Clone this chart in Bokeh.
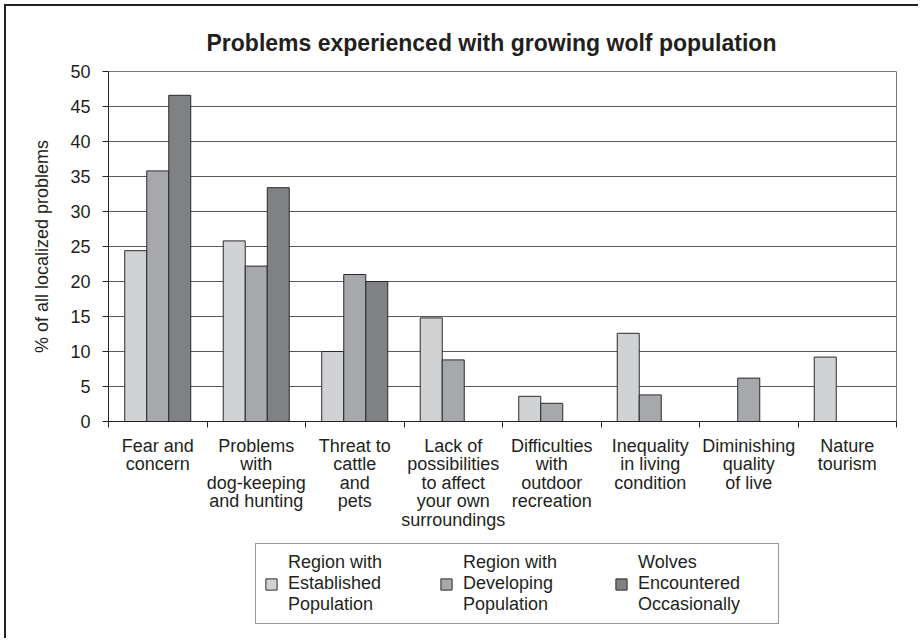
import math
from bokeh.plotting import figure
from bokeh.layouts import column
from bokeh.models import ColumnDataSource, FixedTicker, Legend, LegendItem
from bokeh.transform import dodge
from bokeh.embed import file_html
from bokeh.resources import INLINE

NaN = math.nan

categories = [
    "Fear and\nconcern",
    "Problems\nwith\ndog-keeping\nand hunting",
    "Threat to\ncattle\nand\npets",
    "Lack of\npossibilities\nto affect\nyour own\nsurroundings",
    "Difficulties\nwith\noutdoor\nrecreation",
    "Inequality\nin living\ncondition",
    "Diminishing\nquality\nof live",
    "Nature\ntourism",
]
established = [24.4, 25.8, 10.0, 14.8, 3.6, 12.6, NaN, 9.2]
developing = [35.8, 22.2, 21.0, 8.8, 2.6, 3.8, 6.2, NaN]
occasional = [46.6, 33.4, 20.0, NaN, NaN, NaN, NaN, NaN]
series_names = [
    "Region with\nEstablished\nPopulation",
    "Region with\nDeveloping\nPopulation",
    "Wolves\nEncountered\nOccasionally",
]
series_colors = ["#d1d2d4", "#a7a8ab", "#808184"]
y_ticks = [0, 5, 10, 15, 20, 25, 30, 35, 40, 45, 50]

FONT = "Liberation Sans"
TXT = "#231f20"
EDGE = "#2a2a2a"

centers = [i + 0.5 for i in range(len(categories))]
bounds = list(range(len(categories) + 1))
cols = ["est", "dev", "occ"]

source = ColumnDataSource(dict(x=centers, est=established, dev=developing, occ=occasional))

p = figure(
    width=912, height=535,
    x_range=(0, len(categories)), y_range=(0, 50),
    output_backend="svg", toolbar_location=None,
    min_border_left=102, min_border_right=22, min_border_top=65, min_border_bottom=120,
    background_fill_color="white", border_fill_color="white",
)

bw = 0.2234
offsets = [-bw, 0.0, bw]
for col, off, color in zip(cols, offsets, series_colors):
    p.vbar(x=dodge("x", off, range=p.x_range), top=col, bottom=0, width=bw,
           source=source, fill_color=color, line_color=EDGE, line_width=1)

# title
p.title.text = "Problems experienced with growing wolf population"
p.title.text_font = FONT
p.title.text_font_size = "23px"
p.title.text_font_style = "bold"
p.title.text_color = TXT
p.title.align = "left"
p.title.offset = 98
p.title.standoff = 32

# frame / grid
p.outline_line_color = "#7a7a7a"
p.outline_line_width = 1
p.xgrid.visible = False
p.ygrid.grid_line_color = "#5a5a5a"
p.ygrid.grid_line_width = 1

# y axis
p.yaxis.ticker = FixedTicker(ticks=y_ticks)
p.yaxis.axis_label = "% of all localized problems"
p.yaxis.axis_label_text_font = FONT
p.yaxis.axis_label_text_font_size = "18px"
p.yaxis.axis_label_text_font_style = "normal"
p.yaxis.axis_label_text_color = TXT
p.yaxis.axis_label_standoff = 15
p.yaxis.major_label_text_font = FONT
p.yaxis.major_label_text_font_size = "18px"
p.yaxis.major_label_text_color = TXT
p.yaxis.major_label_standoff = 12
p.yaxis.major_tick_out = 6
p.yaxis.major_tick_in = 0
p.yaxis.minor_tick_line_color = None
p.yaxis.axis_line_color = "#222"
p.yaxis.major_tick_line_color = "#222"

# x axis
p.xaxis.ticker = FixedTicker(ticks=centers, minor_ticks=bounds)
p.xaxis.major_label_overrides = {c: lab for c, lab in zip(centers, categories)}
p.xaxis.major_label_text_font = FONT
p.xaxis.major_label_text_font_size = "18px"
p.xaxis.major_label_text_color = TXT
p.xaxis.major_label_text_line_height = 0.93
p.xaxis.major_label_standoff = 8
p.xaxis.major_tick_line_color = None
p.xaxis.major_tick_out = 0
p.xaxis.major_tick_in = 0
p.xaxis.minor_tick_out = 6
p.xaxis.minor_tick_in = 0
p.xaxis.minor_tick_line_color = "#222"
p.xaxis.axis_line_color = "#222"

# legend panel (separate figure below the chart; its key renderers are hidden)
lg = figure(
    width=912, height=97, output_backend="svg", toolbar_location=None,
    x_axis_location=None, y_axis_location=None, min_border=0,
    x_range=(0, len(categories)), y_range=(0, 50),
    background_fill_color="white", border_fill_color="white",
)
lg.outline_line_color = None
lg.grid.visible = False
key_renderers = []
for col, off, color in zip(cols, offsets, series_colors):
    r = lg.vbar(x=dodge("x", off, range=lg.x_range), top=col, bottom=0, width=bw,
                source=source, fill_color=color, line_color=EDGE, line_width=1)
    r.visible = False
    key_renderers.append(r)
items = [LegendItem(label=n, renderers=[r]) for n, r in zip(series_names, key_renderers)]
legend = Legend(
    items=items, orientation="horizontal", location=(147, 14),
    glyph_width=14, glyph_height=14, label_standoff=10, label_width=132,
    spacing=19, padding=8, margin=0,
    border_line_color="#333", border_line_width=1,
    label_text_font=FONT, label_text_font_size="18px", label_text_color=TXT,
    background_fill_color="white", background_fill_alpha=1.0,
    inactive_fill_alpha=0.0,
)
lg.add_layout(legend)

layout = column(p, lg, spacing=0,
                styles={"border-left": "2px solid #222", "border-top": "2px solid #222",
                        "transform": "translate(4px, 4px)"})

open("out.html", "w").write(file_html(layout, INLINE))
